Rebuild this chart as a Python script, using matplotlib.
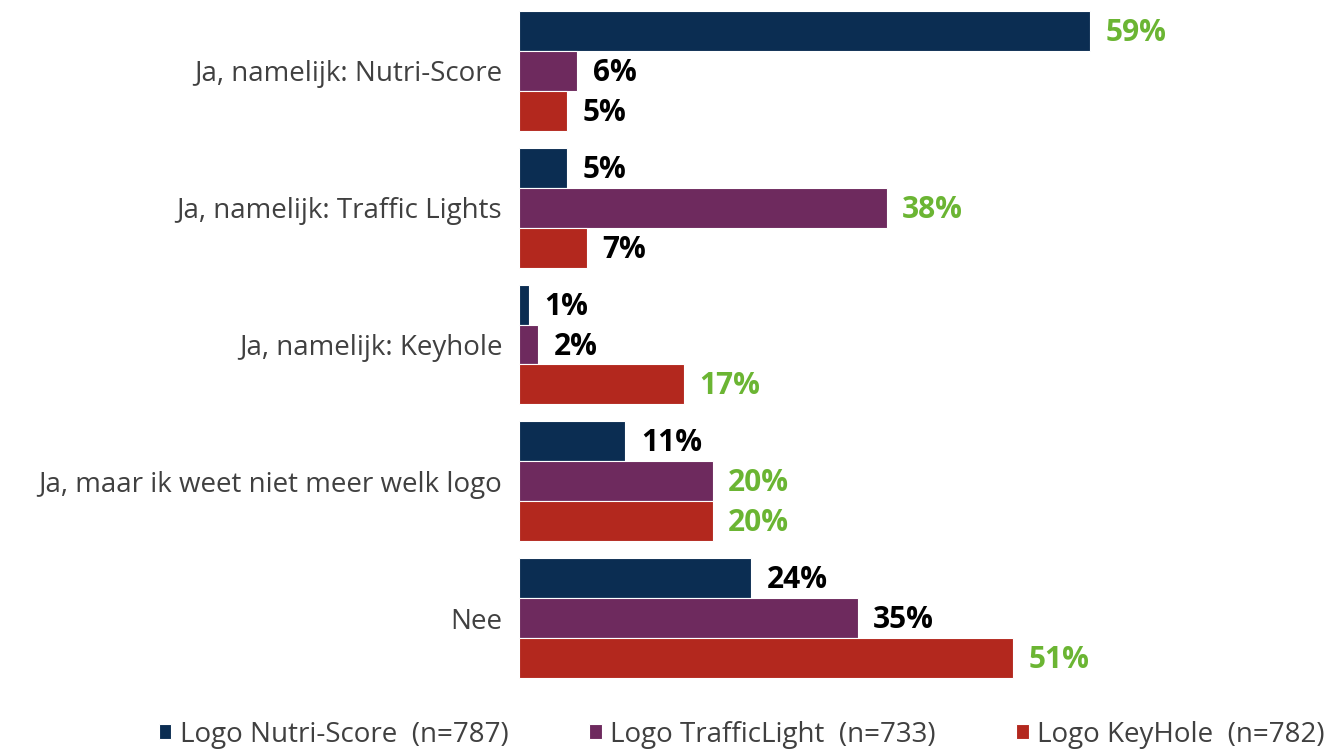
import matplotlib
matplotlib.use("Agg")
import matplotlib.pyplot as plt
import numpy as np

categories = ["Ja, namelijk: Nutri-Score", "Ja, namelijk: Traffic Lights",
              "Ja, namelijk: Keyhole", "Ja, maar ik weet niet meer welk logo", "Nee"]
series_names = ["Logo Nutri-Score  (n=787)", "Logo TrafficLight  (n=733)", "Logo KeyHole  (n=782)"]
nutri = [59, 5, 1, 11, 24]
traffic = [6, 38, 2, 20, 35]
keyhole = [5, 7, 17, 20, 51]
colors = ["#0B2D52", "#6E2A5E", "#B3281E"]
green = "#6BB533"

plt.rcParams['font.family'] = ['Open Sans', 'DejaVu Sans']
fig = plt.figure(figsize=(13.34, 7.52), dpi=100)
ax = fig.add_axes([0.389, 0.0963, 0.508, 0.8912])

series = [nutri, traffic, keyhole]
y = np.arange(len(categories))
h = 0.292
maxes = [max(s[i] for s in series) for i in range(len(categories))]
for k, (vals, c) in enumerate(zip(series, colors)):
    pos = y + (k - 1) * h
    ax.barh(pos, vals, height=h, color=c, edgecolor="white", linewidth=0.8, label=series_names[k])
    for p, v, m in zip(pos, vals, maxes):
        ax.text(v + 1.6, p + 0.015, f"{v}%", va="center", ha="left", fontsize=21.5, fontweight="bold",
                color=green if v == m else "black", clip_on=False)

ax.set_ylim(4.45, -0.45)
ax.set_xlim(0, 70)
ax.set_yticks(y)
ax.set_yticklabels(categories, fontsize=20, color="#404040")
ax.tick_params(axis="y", length=0, pad=12)
ax.set_xticks([])
for s in ["top", "right", "bottom", "left"]:
    ax.spines[s].set_visible(False)

leg = fig.legend(loc="lower center", bbox_to_anchor=(0.556, -0.029), ncol=3, frameon=False,
                 fontsize=20, handlelength=0.45, handleheight=0.45, columnspacing=2.9,
                 handletextpad=0.3)
for t in leg.get_texts():
    t.set_color("#404040")
fig.savefig("out.png", dpi=100)
